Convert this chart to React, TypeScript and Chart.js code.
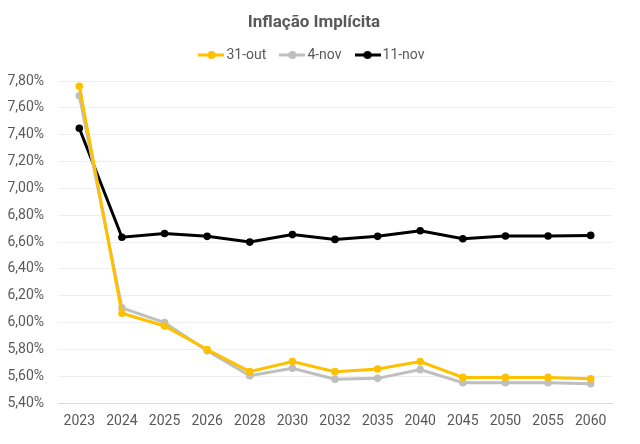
import React, { useEffect, useRef } from "react";
import { Chart, registerables } from "chart.js";

Chart.register(...registerables);

const categories = ["2023", "2024", "2025", "2026", "2028", "2030", "2032", "2035", "2040", "2045", "2050", "2055", "2060"];
const series31out = [7.76, 6.07, 5.975, 5.80, 5.635, 5.71, 5.635, 5.655, 5.71, 5.592, 5.592, 5.592, 5.582];
const series4nov = [7.69, 6.11, 6.0, 5.79, 5.605, 5.66, 5.578, 5.585, 5.65, 5.552, 5.552, 5.552, 5.545];
const series11nov = [7.448, 6.636, 6.664, 6.643, 6.60, 6.656, 6.62, 6.643, 6.684, 6.625, 6.645, 6.645, 6.65];
const seriesNames = ["31-out", "4-nov", "11-nov"];
const seriesColors = ["#FFC000", "#BFBFBF", "#000000"];
const yMin = 5.4;
const yMax = 7.8;
const yStep = 0.2;

function legendIcon(color: string): HTMLCanvasElement {
  const c = document.createElement("canvas");
  c.width = 26;
  c.height = 10;
  const ctx = c.getContext("2d")!;
  ctx.strokeStyle = color;
  ctx.lineWidth = 3;
  ctx.beginPath();
  ctx.moveTo(0, 5);
  ctx.lineTo(26, 5);
  ctx.stroke();
  ctx.fillStyle = color;
  ctx.beginPath();
  ctx.arc(13, 5, 4, 0, Math.PI * 2);
  ctx.fill();
  return c;
}

const legendSpacer = {
  id: "legendSpacer",
  beforeInit(chart: any) {
    const lg = chart.legend;
    if (!lg) return;
    const orig = lg.fit;
    lg.fit = function () {
      orig.call(this);
      this.height += 9;
    };
  },
};

export default function App() {
  const ref = useRef<HTMLCanvasElement | null>(null);
  useEffect(() => {
    document.body.style.margin = "0";
    const all = [series31out, series4nov, series11nov];
    const chart = new Chart(ref.current!, {
      type: "line",
      data: {
        labels: categories,
        datasets: all.map((d, i) => ({
          label: seriesNames[i],
          data: d,
          borderColor: seriesColors[i],
          backgroundColor: seriesColors[i],
          borderWidth: 3,
          pointRadius: 3.8,
          pointBorderWidth: 0,
          pointBackgroundColor: seriesColors[i],
          tension: 0,
        })),
      },
      plugins: [legendSpacer],
      options: {
        animation: false,
        responsive: false,
        maintainAspectRatio: false,
        layout: { padding: { left: 16, right: 28, top: 0, bottom: 4 } },
        plugins: {
          title: {
            display: true,
            text: "Inflação Implícita",
            color: "#595959",
            font: { family: "Roboto", size: 17, weight: "bold" },
            padding: { top: 12.8, bottom: -3.2 },
          },
          legend: {
            display: true,
            position: "top",
            labels: {
              color: "#595959",
              font: { family: "Roboto", size: 14 },
              usePointStyle: true,
              pointStyleWidth: 16,
              boxHeight: 10,
              padding: 18,
              generateLabels: (ch: any) =>
                ch.data.datasets.map((ds: any, i: number) => ({
                  text: ds.label,
                  fillStyle: seriesColors[i],
                  strokeStyle: seriesColors[i],
                  fontColor: "#595959",
                  lineWidth: 0,
                  pointStyle: legendIcon(seriesColors[i]),
                  hidden: false,
                  datasetIndex: i,
                })),
            },
          },
          tooltip: { enabled: false },
        },
        scales: {
          x: {
            offset: true,
            grid: { display: false, drawTicks: false },
            border: { display: true, color: "#D9D9D9", width: 1 },
            ticks: {
              color: "#595959",
              font: { family: "Roboto", size: 14 },
              padding: 10,
              maxRotation: 0,
              autoSkip: false,
            },
          },
          y: {
            min: yMin,
            max: yMax,
            afterFit: (scale: any) => {
              scale.width = 42;
              scale._computeLabelArea = () => undefined;
            },
            grid: { color: "#EFEFEF", drawTicks: false },
            border: { display: false },
            ticks: {
              stepSize: yStep,
              color: "#595959",
              font: { family: "Roboto", size: 14 },
              padding: 14,
              callback: (v: any) => Number(v).toFixed(2).replace(".", ",") + "%",
            },
          },
        },
      },
    });
    return () => chart.destroy();
  }, []);
  return (
    <div style={{ position: "absolute", left: 0, top: 0, width: 640, height: 444 }}>
      <canvas ref={ref} width={640} height={444} style={{ width: 640, height: 444 }} />
    </div>
  );
}
